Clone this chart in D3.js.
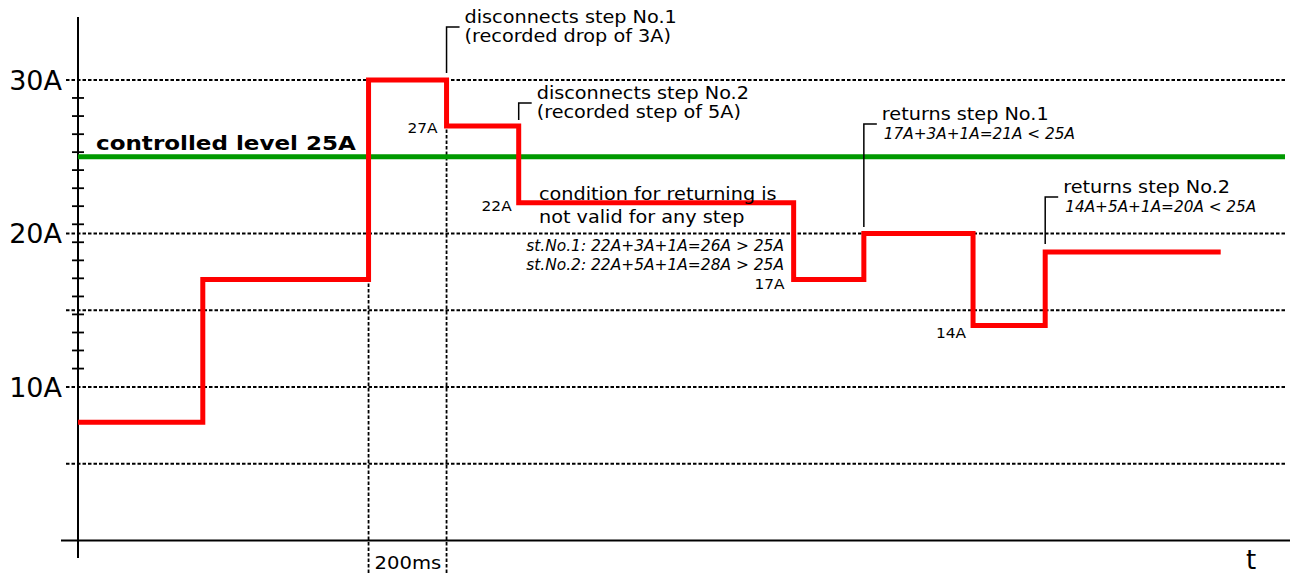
<!DOCTYPE html>
<html>
<head>
<meta charset="utf-8">
<script src="https://cdn.jsdelivr.net/npm/d3@7"></script>
<style>
  body { margin: 0; background: #fff; }
  svg { font-family: "DejaVu Sans", sans-serif; }
</style>
</head>
<body>
<div id="chart"></div>
<script>
// step times (ms) and current levels (A)
const stepTimes = [0, 320, 745, 945, 1130, 1835, 2015, 2295, 2480, 2930];
const stepValues = [7.7, 17, 30, 27, 22, 17, 20, 14, 18.8];
const controlledLevel = 25;
const gridValues = [5, 10, 15, 20, 30];
const labelValues = [10, 20, 30];
const minorTicks = [28.83, 27.65, 26.47, 25.3, 24.13, 22.95, 21.78, 20.6, 19.43,
                    18.25, 17.08, 15.9, 14.73, 13.55, 12.38, 11.2];
const markTimes = [745, 945];   // 200ms window

const width = 1290, height = 574;
const svg = d3.select("#chart").append("svg")
    .attr("width", width)
    .attr("height", height);

const xScale = d3.scaleLinear().domain([0, 3100]).range([78, 1287]);
const yScale = d3.scaleLinear().domain([0, 30]).range([540.5, 80]);

// text helper: the original text is a little stretched horizontally
function txt(x, y, str, opt) {
    opt = opt || {};
    return svg.append("text")
        .attr("transform", `translate(${x},${y}) scale(${opt.sx || 1},1)`)
        .attr("text-anchor", opt.anchor || "start")
        .style("font-size", (opt.size || 17) + "px")
        .style("font-style", opt.italic ? "italic" : "normal")
        .style("font-weight", opt.bold ? "bold" : "normal")
        .text(str);
}

// dashed grid lines
svg.selectAll(".grid")
    .data(gridValues)
    .enter().append("line")
    .attr("x1", 66).attr("x2", 1285)
    .attr("y1", d => yScale(d)).attr("y2", d => yScale(d))
    .attr("stroke", "#000").attr("stroke-width", 1.8)
    .attr("stroke-dasharray", "3.5,2");

// vertical dashed lines for the 200ms window
svg.selectAll(".vmark")
    .data(markTimes)
    .enter().append("line")
    .attr("x1", d => xScale(d)).attr("x2", d => xScale(d))
    .attr("y1", yScale(30)).attr("y2", 574)
    .attr("stroke", "#000").attr("stroke-width", 1.8)
    .attr("stroke-dasharray", "3.5,2");

// axes
svg.append("line")
    .attr("x1", xScale(0)).attr("x2", xScale(0))
    .attr("y1", 17).attr("y2", 558)
    .attr("stroke", "#000").attr("stroke-width", 2);
svg.append("line")
    .attr("x1", 61).attr("x2", 1290)
    .attr("y1", yScale(0)).attr("y2", yScale(0))
    .attr("stroke", "#000").attr("stroke-width", 2);

// minor ticks on y axis
svg.selectAll(".minor")
    .data(minorTicks)
    .enter().append("line")
    .attr("x1", xScale(0) - 6).attr("x2", xScale(0) + 6)
    .attr("y1", d => yScale(d)).attr("y2", d => yScale(d))
    .attr("stroke", "#000").attr("stroke-width", 1.8);

// y labels
labelValues.forEach(d => txt(62, yScale(d) + 9.5, d + "A", {size: 26.5, sx: 1.02, anchor: "end"}));

// controlled level
svg.append("line")
    .attr("x1", xScale(0)).attr("x2", 1285)
    .attr("y1", yScale(controlledLevel)).attr("y2", yScale(controlledLevel))
    .attr("stroke", "#009900").attr("stroke-width", 5);
txt(96, yScale(controlledLevel) - 7, "controlled level " + controlledLevel + "A",
    {size: 19.7, bold: true, sx: 1.17});

// current step line
const stepPoints = stepValues.map((v, i) => [stepTimes[i], v]);
stepPoints.push([stepTimes[stepTimes.length - 1], stepValues[stepValues.length - 1]]);
const line = d3.line()
    .x(d => xScale(d[0]))
    .y(d => yScale(d[1]))
    .curve(d3.curveStepAfter);
svg.append("path")
    .datum(stepPoints)
    .attr("d", line)
    .attr("fill", "none")
    .attr("stroke", "#ff0000")
    .attr("stroke-width", 5);

// small level labels
const levelLabels = [
    {t: 945, v: 27, text: "27A", dx: -9, dy: 7},
    {t: 1130, v: 22, text: "22A", dx: -7, dy: 8},
    {t: 1835, v: 17, text: "17A", dx: -9, dy: 9},
    {t: 2295, v: 14, text: "14A", dx: -7, dy: 12}
];
levelLabels.forEach(d =>
    txt(xScale(d.t) + d.dx, yScale(d.v) + d.dy, d.text, {size: 14, sx: 1.1, anchor: "end"}));

// callout brackets
function callout(t, yBottom, yTop, lines, italic) {
    const x = xScale(t);
    svg.append("path")
        .attr("d", `M${x},${yBottom}V${yTop}H${x + 13}`)
        .attr("fill", "none").attr("stroke", "#000").attr("stroke-width", 1.5);
    txt(x + 18, yTop - 4, lines[0], {size: 17.5, sx: 1.1});
    if (italic) txt(x + 20, yTop + 15, lines[1], {size: 15, sx: 1.02, italic: true});
    else txt(x + 18, yTop + 15, lines[1], {size: 17.5, sx: 1.1});
}
callout(945, 73, 27, ["disconnects step No.1", "(recorded drop of 3A)"], false);
callout(1130, 120, 103, ["disconnects step No.2", "(recorded step of 5A)"], false);
callout(2015, 227, 124, ["returns step No.1", "17A+3A+1A=21A < 25A"], true);
callout(2480, 244, 197, ["returns step No.2", "14A+5A+1A=20A < 25A"], true);

// condition text
txt(539, 200, "condition for returning is", {size: 17.5, sx: 1.1});
txt(539, 223, "not valid for any step", {size: 17.5, sx: 1.1});
txt(784, 251, "st.No.1: 22A+3A+1A=26A > 25A", {size: 15, sx: 1.03, italic: true, anchor: "end"});
txt(784, 270, "st.No.2: 22A+5A+1A=28A > 25A", {size: 15, sx: 1.03, italic: true, anchor: "end"});

// time labels
txt(xScale(745) + 6, 569, "200ms", {size: 17.5, sx: 1.12});
txt(1246, 569, "t", {size: 26});
</script>
</body>
</html>
